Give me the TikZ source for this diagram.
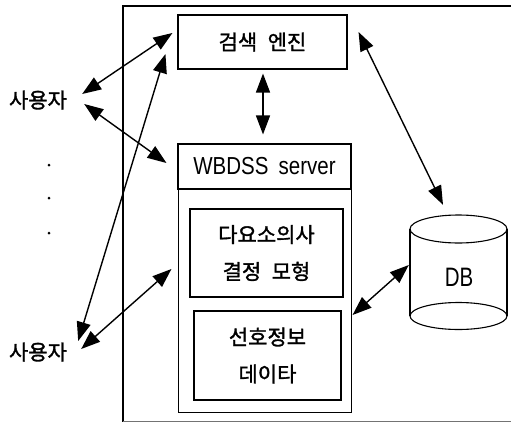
\documentclass[tikz,border=0pt]{standalone}
\usepackage{fontspec}
\setmainfont{Liberation Sans}
\newfontfamily\kr[FakeBold=1.5]{Noto Sans CJK KR}
\usetikzlibrary{arrows.meta,calc}

\newcommand{\tallfont}[1]{\scalebox{1}[1.2]{#1}}

\tikzset{
  box/.style={draw, line width=1.1pt, inner sep=0pt, align=center},
  thinbox/.style={draw, line width=0.7pt, inner sep=0pt},
  kor/.style={font=\kr\fontsize{21}{37}\selectfont},
  lat/.style={font=\fontsize{20.5}{24}\selectfont},
  tip/.tip={Triangle[length=19pt,width=14pt]},
  link/.style={line width=1.4pt, tip-tip},
  userlabel/.style={kor, inner sep=0pt},
  dot/.style={circle, fill, inner sep=0pt, minimum size=3pt},
}

\begin{document}
\begin{tikzpicture}[x=1pt,y=-1pt]
\useasboundingbox (0,0) rectangle (511,423);

% outer frame, open on the right
\draw[line width=1.2pt] (511,6) -- (123,6) -- (123,421.5);
\draw[line width=1.2pt, black!55] (123,421.5) -- (511,421.5);

% search engine
\node[box, kor, minimum width=169pt, minimum height=54pt] (search) at (262.5,42)
  {검색\hspace{0.5em}엔진};

% WBDSS server with its body
\node[box, lat, minimum width=173pt, minimum height=45pt] (wbhead) at (264.5,166.5)
  {\tallfont{WBDSS\hspace{0.5em}server}};
\node[thinbox, minimum width=173pt, minimum height=223pt] (wbbody) at (264.5,300.5) {};
\node[box, kor, minimum width=153pt, minimum height=88pt] (mcdm) at (266.5,253)
  {다요소의사\\결정\hspace{0.5em}모형};
\node[box, kor, minimum width=147pt, minimum height=89pt] (pref) at (267.5,355.5)
  {선호정보\\데이타};

% database cylinder
\node[inner sep=0pt, minimum width=97pt, minimum height=115pt] (db) at (458.5,272.5) {};
\node[lat] at (459,277) {\scalebox{1}[1.3]{DB}};
\draw[line width=1.1pt] (458.5,229) ellipse [x radius=48.5pt, y radius=14pt];
\draw[line width=1.1pt] (458.5,316) ellipse [x radius=48.5pt, y radius=13.5pt];
\draw[line width=1.1pt] (410,229) -- (410,316);
\draw[line width=1.1pt] (507,229) -- (507,316);

% users
\node[userlabel] (user1) at (38,100) {사용자};
\node[userlabel] (user2) at (38,352) {사용자};
\node[dot] (d1) at (49,165) {};
\node[dot] (d2) at (49,198) {};
\node[dot] (d3) at (49,233) {};

% connectors
\draw[link] ($(user1.east)+(15,-6)$) -- ($(search.west)+(-5,-9)$);
\draw[link] ($(user1.east)+(17,4)$) -- ($(wbhead.west)+(-11,-3.5)$);
\draw[link] ($(search.west)+(-12,12)$) -- ($(user2.east)+(11,-11)$);
\draw[link] ($(user2.east)+(14,-3)$) -- ($(mcdm.west)+(-18,16)$);
\draw[link] ($(search.south)+(0.5,4)$) -- ($(wbhead.north)+(-1.5,-9)$);
\draw[link] ($(search.east)+(11,-10)$) -- ($(db.north)+(-15.5,-10)$);
\draw[link] ($(db.west)+(-1,-7.5)$) -- ($(pref.east)+(11,-40.5)$);
\end{tikzpicture}
\end{document}
